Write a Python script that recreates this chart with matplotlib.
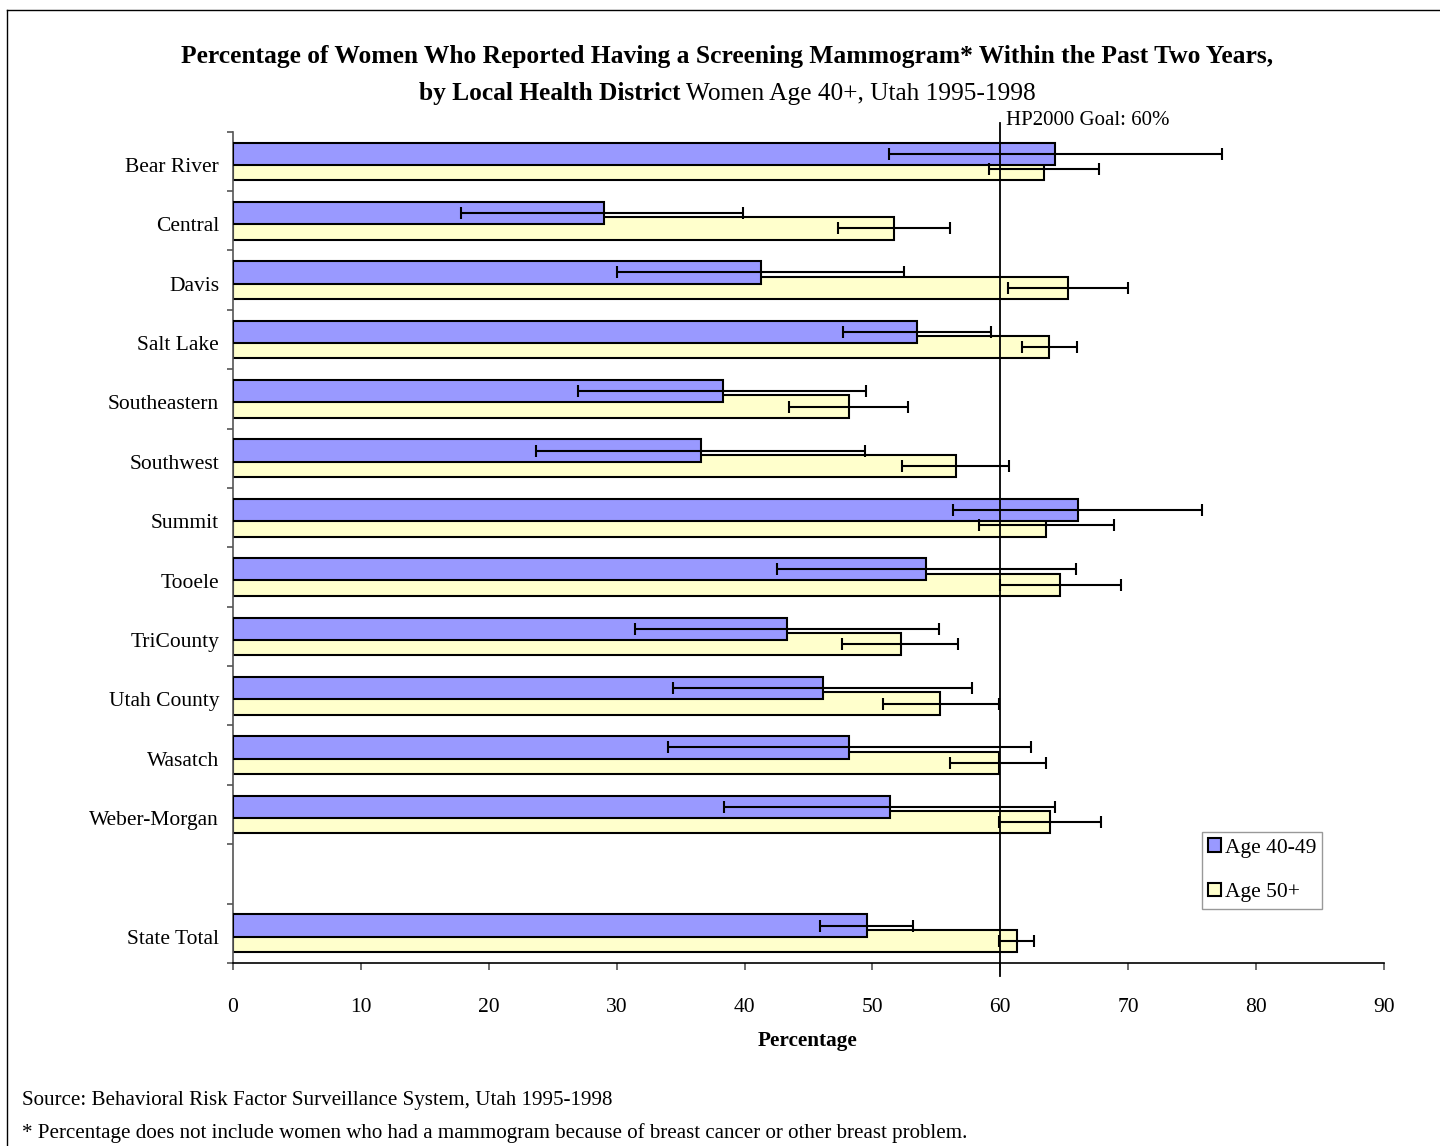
import matplotlib
matplotlib.use('Agg')
import matplotlib.pyplot as plt
from matplotlib.lines import Line2D
from matplotlib.patches import Patch
import matplotlib.transforms as mtransforms
import numpy as np

# ---------------- data ----------------
districts = ["Bear River", "Central", "Davis", "Salt Lake", "Southeastern", "Southwest",
             "Summit", "Tooele", "TriCounty", "Utah County", "Wasatch", "Weber-Morgan",
             "State Total"]
age4049 = [64.3, 29.0, 41.3, 53.5, 38.3, 36.6, 66.1, 54.2, 43.3, 46.1, 48.2, 51.4, 49.6]
age4049_lo = [51.3, 17.8, 30.0, 47.7, 27.0, 23.7, 56.3, 42.5, 31.4, 34.4, 34.0, 38.4, 45.9]
age4049_hi = [77.3, 39.9, 52.5, 59.3, 49.5, 49.4, 75.8, 65.9, 55.2, 57.8, 62.4, 64.3, 53.2]
age50 = [63.4, 51.7, 65.3, 63.8, 48.2, 56.5, 63.6, 64.7, 52.2, 55.3, 59.9, 63.9, 61.3]
age50_lo = [59.1, 47.3, 60.6, 61.7, 43.5, 52.3, 58.3, 60.0, 47.6, 50.8, 56.1, 59.9, 59.9]
age50_hi = [67.7, 56.1, 70.0, 66.0, 52.8, 60.7, 68.9, 69.4, 56.7, 59.9, 63.6, 67.9, 62.6]
goal = 60
xticks = [0, 10, 20, 30, 40, 50, 60, 70, 80, 90]
series_labels = ["Age 40-49", "Age 50+"]

# ---------------- style ----------------
SERIF = ['Liberation Serif', 'DejaVu Serif']
plt.rcParams['font.family'] = SERIF
BLUE = '#9999FF'
YELLOW = '#FFFFCC'
W, H, DPI = 1440, 1146, 100

fig = plt.figure(figsize=(W / DPI, H / DPI), dpi=DPI)
fig.patch.set_facecolor('white')

def fx(px):
    return px / W

def fy(py):
    return 1 - py / H

ax = fig.add_axes([fx(233), fy(963), fx(1384) - fx(233), fy(131.7) - fy(963)])

# slot positions: 12 districts, one empty slot, State Total
pos = np.array(list(range(12)) + [13], dtype=float)
bh = 0.375
off = 0.13

err_b = [np.array(age4049) - np.array(age4049_lo), np.array(age4049_hi) - np.array(age4049)]
err_y = [np.array(age50) - np.array(age50_lo), np.array(age50_hi) - np.array(age50)]

ax.barh(pos + off, age50, height=bh, color=YELLOW, edgecolor='black', linewidth=1.5, zorder=2)
ax.barh(pos - off, age4049, height=bh, color=BLUE, edgecolor='black', linewidth=1.5, zorder=3)
ax.errorbar(age4049, pos - off, xerr=err_b, fmt='none', ecolor='black', elinewidth=1.5,
            capsize=4.4, capthick=1.5, zorder=4)
ax.errorbar(age50, pos + off, xerr=err_y, fmt='none', ecolor='black', elinewidth=1.5,
            capsize=4.4, capthick=1.5, zorder=4)

ax.set_xlim(0, 90)
ax.set_ylim(13.5, -0.5)

# goal line
ax.plot([goal, goal], [-0.65, 13.72], color='black', lw=1.3, clip_on=False, zorder=5)

# axes styling
for s in ['top', 'right']:
    ax.spines[s].set_visible(False)
ax.spines['left'].set_color('#555555')
ax.spines['left'].set_linewidth(1.2)
ax.spines['bottom'].set_color('black')
ax.spines['bottom'].set_linewidth(1.2)

ax.set_xticks(xticks)
ax.set_xticklabels([str(v) for v in xticks])
ax.tick_params(axis='x', direction='out', length=5, width=1.2, color='#555555',
               pad=20, labelsize=15.5)

ax.set_yticks(pos)
ax.set_yticklabels(districts)
ax.tick_params(axis='y', which='major', length=0, pad=10, labelsize=15.5)
ax.set_yticks(np.arange(-0.5, 14.0, 1.0), minor=True)
ax.tick_params(axis='y', which='minor', direction='out', length=4.5, width=1.2, color='#555555')

shift = mtransforms.ScaledTranslation(0, -3.5 / DPI, fig.dpi_scale_trans)
for lab in ax.get_yticklabels():
    lab.set_transform(lab.get_transform() + shift)

fig.canvas.draw()
renderer = fig.canvas.get_renderer()

def fit(t, target):
    w = t.get_window_extent(renderer).width
    t.set_fontsize(t.get_fontsize() * target / w)

# title line 1
t1 = fig.text(fx(727.5), fy(63),
              "Percentage of Women Who Reported Having a Screening Mammogram* Within the Past Two Years,",
              ha='center', va='baseline', fontsize=19, fontweight='bold')
fit(t1, 1093)

# title line 2 (mixed weight)
t2a = fig.text(0, fy(100), "by Local Health District", ha='left', va='baseline',
               fontsize=19, fontweight='bold')
t2b = fig.text(0, fy(100), " Women Age 40+, Utah 1995-1998", ha='left', va='baseline',
               fontsize=19)
wa = t2a.get_window_extent(renderer).width
wb = t2b.get_window_extent(renderer).width
sc = 619.0 / (wa + wb)
t2a.set_fontsize(19 * sc)
t2b.set_fontsize(19 * sc)
wa = t2a.get_window_extent(renderer).width
wb = t2b.get_window_extent(renderer).width
left = 727.5 - (wa + wb) / 2
t2a.set_x(fx(left))
t2b.set_x(fx(left + wa))

# goal label
tg = fig.text(fx(1006), fy(125), "HP2000 Goal: 60%", ha='left', va='baseline', fontsize=15.5)
fit(tg, 164)

# x label
tx = fig.text(fx(808), fy(1046), "Percentage", ha='center', va='baseline', fontsize=15.5,
              fontweight='bold')
fit(tx, 100)

# source & footnote
ts = fig.text(fx(22), fy(1105), "Source: Behavioral Risk Factor Surveillance System, Utah 1995-1998",
              ha='left', va='baseline', fontsize=15)
fit(ts, 591)
tf = fig.text(fx(22), fy(1138),
              "* Percentage does not include women who had a mammogram because of breast cancer or other breast problem.",
              ha='left', va='baseline', fontsize=15)
fit(tf, 948)

# legend
handles = [Patch(facecolor=BLUE, edgecolor='black', linewidth=1.5),
           Patch(facecolor=YELLOW, edgecolor='black', linewidth=1.5)]
leg = fig.legend(handles, series_labels, loc='upper left',
                 bbox_to_anchor=(fx(1202), fy(832)), bbox_transform=fig.transFigure,
                 fontsize=15.5, frameon=True, fancybox=False, borderaxespad=0,
                 handlelength=0.6, handleheight=0.6, handletextpad=0.15,
                 labelspacing=1.15, borderpad=0.3)
leg.get_frame().set_edgecolor('#808080')
leg.get_frame().set_linewidth(1.0)

# outer frame (left and top edges visible)
fig.add_artist(Line2D([fx(7), fx(7)], [fy(10), 0], color='black', lw=1.0))
fig.add_artist(Line2D([fx(7), 1], [fy(10), fy(10)], color='black', lw=1.0))

fig.savefig('out.png', dpi=DPI)
